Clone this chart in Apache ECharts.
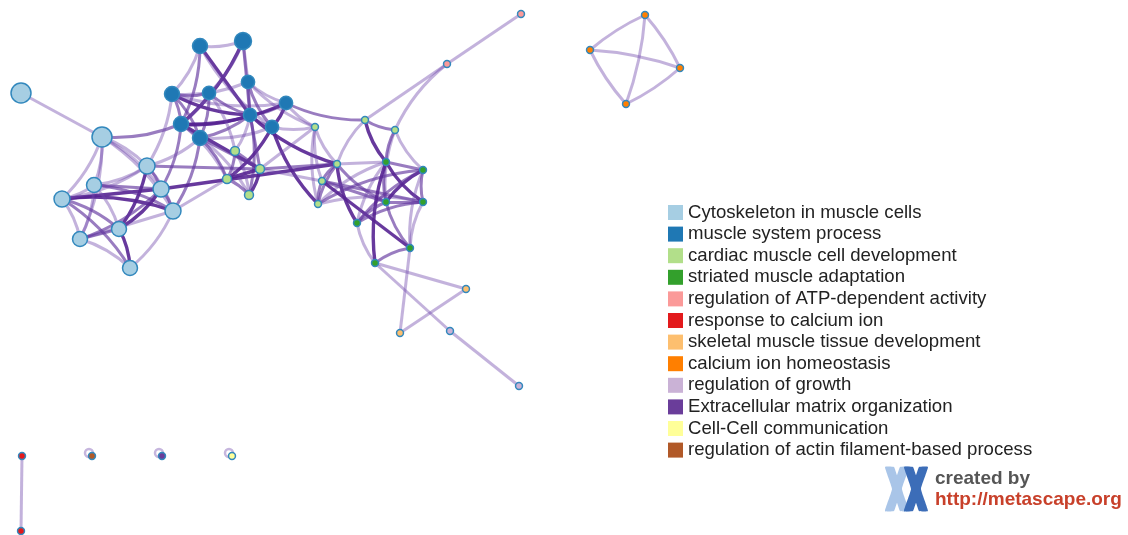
<!DOCTYPE html>
<html>
<head>
<meta charset="utf-8">
<script src="https://cdn.jsdelivr.net/npm/echarts@6/dist/echarts.min.js"></script>
<style>
  html, body { margin: 0; padding: 0; background: #ffffff; }
  #chart { width: 1128px; height: 535px; }
</style>
</head>
<body>
<div id="chart"></div>
<script>
// Enrichment clusters (one colour each)
const categories = [
  'Cytoskeleton in muscle cells',
  'muscle system process',
  'cardiac muscle cell development',
  'striated muscle adaptation',
  'regulation of ATP-dependent activity',
  'response to calcium ion',
  'skeletal muscle tissue development',
  'calcium ion homeostasis',
  'regulation of growth',
  'Extracellular matrix organization',
  'Cell-Cell communication',
  'regulation of actin filament-based process'
];
const palette = ['#a6cee3', '#1f78b4', '#b2df8a', '#33a02c', '#fb9a99', '#e31a1c',
                 '#fdbf6f', '#ff7f00', '#cab2d6', '#6a3d9a', '#ffff99', '#b15928'];

// Terms (nodes): id, cluster index, layout position, gene count
const nodeIds = ['c0','c1','c2','c3','c4','c5','c6','c7','c8','c9',
                 'm0','m1','m2','m3','m4','m5','m6','m7','m8','m9',
                 'g0','g1','g2','g3','g4','g5','g6','g7','g8','g9',
                 's0','s1','s2','s3','s4','s5','s6',
                 'a0','a1','r0','r1','k0','k1','o0','o1','o2','o3','p0','p1','e0','y0','b0'];
const nodeCluster = [0,0,0,0,0,0,0,0,0,0,
                     1,1,1,1,1,1,1,1,1,1,
                     2,2,2,2,2,2,2,2,2,2,
                     3,3,3,3,3,3,3,
                     4,4,5,5,6,6,7,7,7,7,8,8,9,10,11];
const nodeX = [21,102,147,94,161,62,173,119,80,130,
               200,243,248,172,209,286,250,181,272,200,
               235,260,227,249,315,365,395,337,322,318,
               386,423,386,423,357,410,375,
               521,447,22,21,466,400,645,590,680,626,450,519,162,232,92];
const nodeY = [93,137,166,185,189,199,211,229,239,268,
               46,41,82,94,93,103,115,124,127,138,
               151,169,179,195,127,120,130,164,181,204,
               162,170,202,202,223,248,263,
               14,64,456,531,289,333,15,50,68,104,331,386,456,456,456];
const nodeGenes = [25,25,16,14,16,16,16,14,14,14,
                   14,18,11,14,11,11,11,14,11,14,
                   5,5,5,5,3,3,3,3,3,3,
                   3,3,3,3,3,3,3,
                   3,3,3,3,3,3,3,3,3,3,3,3,3,3,3];

// Similarity links: [source, target, strength 1..3]
const links = [
  ['c0','c1',1],['c1','c2',1],['c1','c3',1],['c1','c5',1],['c1','c4',1],['c1','c8',1],['c1','c6',1],['c1','m7',2],
  ['c5','c4',3],['c5','c6',3],['c3','c6',2],['c3','c4',2],['c7','c2',3],['c7','c4',3],['c8','c4',2],['c8','c6',1],
  ['c8','c7',2],['c9','c7',3],['c9','c8',1],['c9','c5',2],['c5','c8',1],['c3','c5',1],['c3','c8',1],['c2','c4',2],
  ['c4','c6',2],['c2','c6',1],['c5','c7',2],['c3','c7',1],['c2','c5',1],['c2','c3',1],['c9','c6',1],
  ['c4','m7',2],['c6','m9',2],['c2','m9',1],['c2','g1',2],['c4','g7',3],['c6','g2',1],['c2','m3',1],
  ['m0','m1',1],['m0','m6',3],['m0','m7',2],['m0','m8',1],['m0','m3',1],
  ['m1','m7',3],['m1','m2',1],['m1','m6',2],['m1','m4',1],
  ['m3','m6',3],['m3','m4',2],['m3','m7',2],['m3','m9',2],['m3','m2',1],['m3','m5',1],
  ['m4','m9',2],['m4','m6',2],['m4','m7',1],['m2','m6',2],['m2','m8',2],['m2','m5',1],
  ['m5','m6',2],['m5','m8',3],['m7','m5',3],['m6','m8',2],['m6','m9',2],['m7','m9',2],['m7','m6',3],['m9','m8',1],
  ['m5','g4',1],['m5','g5',2],['m6','g0',1],['m6','g3',2],['m8','g2',3],['m7','g1',3],['m9','g1',2],['m9','g3',1],
  ['m4','g0',1],['m6','g1',2],['m8','g9',3],['m6','g7',3],['m8','g4',1],['m2','g4',1],['m9','g2',2],['m7','g2',1],
  ['g0','g1',2],['g0','g2',2],['g0','g3',1],['g1','g2',3],['g1','g3',3],['g2','g3',2],
  ['g4','g8',1],['g4','g9',1],['g4','g1',1],['g4','g7',1],
  ['g7','g8',2],['g7','g9',2],['g8','g9',2],['g7','g5',1],['g1','g7',2],['g1','g8',1],
  ['g5','g6',2],['g5','a1',1],['g6','a1',1],
  ['g5','s0',3],['g6','s0',2],['g6','s2',1],['g6','s1',1],
  ['g7','s4',3],['g7','s2',2],['g7','s0',1],['g8','s3',2],['g9','s1',2],['g8','s2',2],['g9','s3',1],['g9','s0',1],['g8','s5',3],
  ['s0','s1',2],['s0','s2',2],['s0','s3',3],['s1','s2',3],['s1','s3',2],['s2','s3',2],['s4','s1',2],['s4','s3',2],
  ['s4','s0',1],['s2','s5',2],['s0','s6',3],['s5','s6',2],['s6','s4',1],['s5','s3',1],['s5','s1',1],['s4','s2',2],
  ['s6','k0',1],['s6','p0',1],['s5','k1',1],['k0','k1',1],['p0','p1',1],
  ['a0','a1',1],
  ['o0','o1',1],['o0','o2',1],['o0','o3',1],['o1','o2',1],['o1','o3',1],['o2','o3',1],
  ['r0','r1',1]
];

// Terms that link back to themselves
const selfLoops = ['b0','e0','y0'];

// ---------- build series ----------
const idx = {};
nodeIds.forEach((id, i) => { idx[id] = i; });
const degree = nodeIds.map(() => 0);
links.forEach(l => { degree[idx[l[0]]]++; degree[idx[l[1]]]++; });

function clusterCentre(c) {
  let sx = 0, sy = 0, n = 0;
  nodeIds.forEach((id, i) => { if (nodeCluster[i] === c) { sx += nodeX[i]; sy += nodeY[i]; n++; } });
  return [sx / n, sy / n];
}
const mainCentre = [265, 170];
const homeoCentre = clusterCentre(7);

// bend links toward the core of the network (outward for the small ring)
function bend(a, b) {
  const i = idx[a], j = idx[b];
  if (degree[i] <= 2 || degree[j] <= 2) return 0;
  const dx = nodeX[j] - nodeX[i], dy = nodeY[j] - nodeY[i];
  const mx = (nodeX[i] + nodeX[j]) / 2, my = (nodeY[i] + nodeY[j]) / 2;
  const outward = nodeCluster[i] === 7;
  const c = outward ? homeoCentre : mainCentre;
  const vx = c[0] - mx, vy = c[1] - my;
  const len = Math.hypot(dx, dy), dist = Math.hypot(vx, vy) || 1;
  const s = (dy * vx - dx * vy) / (len * dist);
  if (Math.abs(s) < 0.25) return 0;
  const k = outward ? -0.07 : 0.12;
  return k * Math.sign(s);
}

const strengthStyle = {
  1: { color: 'rgba(112,72,172,0.42)', width: 3, opacity: 1 },
  2: { color: 'rgba(100,56,160,0.66)', width: 3, opacity: 1 },
  3: { color: 'rgba(86,36,146,0.9)', width: 3.4, opacity: 1 }
};

const graphNodes = nodeIds.map((id, i) => ({
  name: id,
  value: [nodeX[i], nodeY[i]],
  category: nodeCluster[i],
  symbolSize: 4 * Math.sqrt(nodeGenes[i])
}));

const graphLinks = links.map(l => ({
  source: l[0],
  target: l[1],
  lineStyle: Object.assign({ curveness: bend(l[0], l[1]) }, strengthStyle[l[2]])
}));

// chromosome-like logo mark
function chromosome(x0, y0, fill) {
  const h = 44;
  const pts = [[0,0],[9,0],[12,8],[15,0],[24,0],[17,h/2],[24,h],[15,h],[12,h-8],[9,h],[0,h],[7,h/2]]
    .map(p => [x0 + p[0], y0 + p[1]]);
  return { type: 'polygon', shape: { points: pts, smooth: 0.12 }, style: { fill: fill }, silent: true };
}

const chart = echarts.init(document.getElementById('chart'), null, { renderer: 'canvas' });
chart.setOption({
  animation: false,
  backgroundColor: '#ffffff',
  grid: { left: 0, right: 0, top: 0, bottom: 0, containLabel: false },
  xAxis: { type: 'value', min: 0, max: 1128, show: false },
  yAxis: { type: 'value', min: 0, max: 535, inverse: true, show: false },
  legend: {
    data: categories,
    orient: 'vertical',
    left: 668,
    top: 203,
    padding: 0,
    itemWidth: 15,
    itemHeight: 15,
    itemGap: 2.6,
    icon: 'rect',
    selectedMode: false,
    itemStyle: { borderWidth: 0 },
    textStyle: { fontFamily: '"Liberation Sans", Arial, sans-serif', fontSize: 18.6, color: '#222222' }
  },
  series: [
    {
      type: 'scatter',
      coordinateSystem: 'cartesian2d',
      silent: true,
      z: 1,
      symbol: 'circle',
      symbolSize: 8,
      symbolOffset: [-3, -3],
      itemStyle: { color: 'rgba(0,0,0,0)', borderColor: 'rgba(112,72,172,0.5)', borderWidth: 2.5 },
      data: selfLoops.map(id => [nodeX[idx[id]], nodeY[idx[id]]])
    },
    {
      type: 'graph',
      coordinateSystem: 'cartesian2d',
      layout: 'none',
      silent: true,
      z: 2,
      categories: categories.map((name, i) => ({ name: name, itemStyle: { color: palette[i] } })),
      itemStyle: { borderColor: '#3288bd', borderWidth: 1.5 },
      label: { show: false },
      edgeSymbol: ['none', 'none'],
      data: graphNodes,
      links: graphLinks
    }
  ],
  graphic: [
    chromosome(885, 467, '#a9c5e8'),
    chromosome(904, 467, '#3c6db8'),
    {
      type: 'text', x: 935, y: 479, silent: true,
      style: { text: 'created by', font: 'bold 19px "Liberation Sans", Arial, sans-serif',
               fill: '#555555', verticalAlign: 'middle' }
    },
    {
      type: 'text', x: 935, y: 500, silent: true,
      style: { text: 'http://metascape.org', font: 'bold 19px "Liberation Sans", Arial, sans-serif',
               fill: '#c8402a', verticalAlign: 'middle' }
    }
  ]
});
</script>
</body>
</html>
